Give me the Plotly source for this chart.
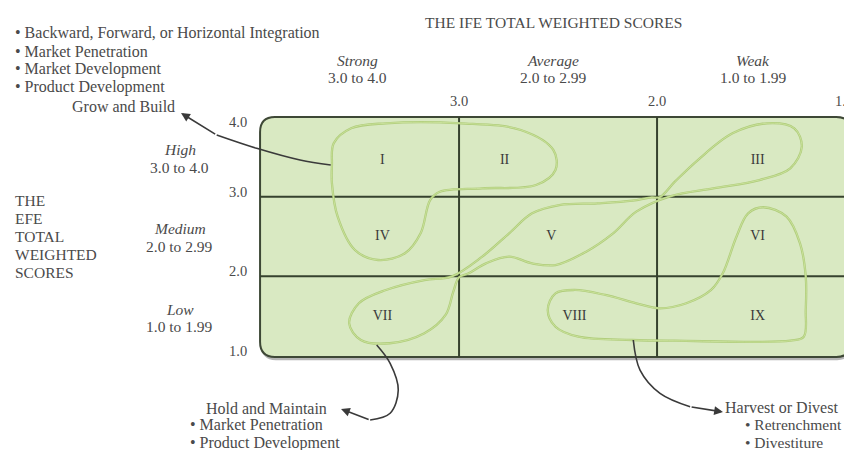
import plotly.graph_objects as go

# ---------------- data ----------------
ife_ticks = [3.0, 2.0, 1.0]            # top axis tick values (IFE)
efe_ticks = [4.0, 3.0, 2.0, 1.0]       # left axis tick values (EFE)
dividers = [3.0, 2.0]                  # cell boundaries

col_names = ["Strong", "Average", "Weak"]
col_ranges = ["3.0 to 4.0", "2.0 to 2.99", "1.0 to 1.99"]
col_centers = [3.515, 2.525, 1.515]
row_names = ["High", "Medium", "Low"]
row_ranges = ["3.0 to 4.0", "2.0 to 2.99", "1.0 to 1.99"]
row_centers = [3.48, 2.49, 1.48]

cell_labels = ["I", "II", "III", "IV", "V", "VI", "VII", "VIII", "IX"]
cell_x = [3.387, 2.770, 1.492, 3.387, 2.534, 1.492, 3.387, 2.417, 1.492]
cell_y = [3.46, 3.46, 3.46, 2.497, 2.497, 2.497, 1.493, 1.493, 1.493]

# "Grow and Build" region (I, II, IV)
grow_x = [3.633, 3.545, 3.369, 2.990, 2.688, 2.524, 2.513, 2.611, 2.883, 3.097, 3.146,
          3.194, 3.273, 3.409, 3.526, 3.613, 3.642, 3.642, 3.633]
grow_y = [3.670, 3.858, 3.921, 3.921, 3.837, 3.586, 3.335, 3.146, 3.105, 3.062, 2.958,
          2.540, 2.289, 2.205, 2.331, 2.749, 3.168, 3.398, 3.670]
# "Hold and Maintain" region (III, V, VII)
hold_x = [1.988, 1.910, 1.794, 1.619, 1.444, 1.307, 1.269, 1.327, 1.483, 1.716, 1.930,
          2.105, 2.222, 2.358, 2.513, 2.631, 2.747, 2.864, 2.951, 3.000,
          3.029, 3.068, 3.175, 3.350, 3.496, 3.555, 3.506, 3.369, 3.175, 3.039,
          2.883, 2.747, 2.631, 2.494, 2.300, 2.125, 2.027, 1.988]
hold_y = [2.992, 3.188, 3.460, 3.795, 3.921, 3.858, 3.628, 3.356, 3.209, 3.105, 3.008,
          2.812, 2.540, 2.310, 2.142, 2.163, 2.247, 2.163, 2.038, 1.988,
          1.807, 1.515, 1.285, 1.160, 1.201, 1.411, 1.662, 1.829, 1.954, 1.996,
          2.247, 2.540, 2.791, 2.895, 2.917, 2.950, 2.992, 2.992]
# "Harvest or Divest" region (VI, VIII, IX)
harv_x = [1.463, 1.346, 1.278, 1.249, 1.249, 1.259, 1.327, 1.910, 2.125, 2.397, 2.513,
          2.552, 2.513, 2.416, 2.261, 2.105, 1.988, 1.852, 1.727, 1.668, 1.599, 1.540, 1.463]
harv_y = [2.867, 2.749, 2.415, 1.996, 1.578, 1.242, 1.192, 1.192, 1.201, 1.242, 1.368,
          1.578, 1.787, 1.829, 1.766, 1.662, 1.599, 1.662, 1.829, 2.038, 2.498, 2.791, 2.867]

# connector arrows (tail on region -> head at strategy text)
arrow_grow_x = [3.648, 3.803, 4.022, 4.224, 4.404]
arrow_grow_y = [3.398, 3.460, 3.607, 3.774, 4.050]
arrow_hold_x = [3.416, 3.348, 3.307, 3.348, 3.449, 3.596]
arrow_hold_y = [1.138, 0.908, 0.573, 0.281, 0.197, 0.335]
arrow_harv_x = [2.120, 2.086, 1.985, 1.833, 1.667]
arrow_harv_y = [1.201, 0.824, 0.532, 0.364, 0.297]

grow_lines = ["• Backward, Forward, or Horizontal Integration", "• Market Penetration",
              "• Market Development", "• Product Development"]
hold_lines = ["• Market Penetration", "• Product Development"]
harv_lines = ["• Retrenchment", "• Divestiture"]
efe_title = ["THE", "EFE", "TOTAL", "WEIGHTED", "SCORES"]
ife_title = "THE IFE TOTAL WEIGHTED SCORES"

# ---------------- styles ----------------
SERIF = "Liberation Serif, Times New Roman, serif"
TXT = "#4a4a4a"
FILL = "#d9e9c2"
GRID = "#36422e"
LOOP_EDGE = "#afcc7a"
LOOP = "#cfe6a2"
LINE_STEP = 0.226          # 18 px line spacing in y-units

fig = go.Figure()

X_LEFT, X_RIGHT, Y_TOP, Y_BOT = 4.005, 1.02, 4.0, 0.988
RX, RY = 0.075, 0.19


def rrect(xl, xr, yt, yb, rx, ry):
    s = 1 if xr > xl else -1
    return (f"M {xl + s*rx},{yt} L {xr - s*rx},{yt} Q {xr},{yt} {xr},{yt - ry} "
            f"L {xr},{yb + ry} Q {xr},{yb} {xr - s*rx},{yb} L {xl + s*rx},{yb} "
            f"Q {xl},{yb} {xl},{yb + ry} L {xl},{yt - ry} Q {xl},{yt} {xl + s*rx},{yt} Z")


shapes = []
shapes.append(dict(type="path", xref="x", yref="y", layer="below",
                   path=rrect(X_LEFT - 0.005, X_RIGHT - 0.005, Y_TOP - 0.04, Y_BOT - 0.04, RX, RY),
                   fillcolor="rgba(90,90,90,0.45)", line=dict(width=0)))
shapes.append(dict(type="path", xref="x", yref="y", layer="below",
                   path=rrect(X_LEFT, X_RIGHT, Y_TOP, Y_BOT, RX, RY),
                   fillcolor=FILL, line=dict(color="#3e4836", width=2)))
for d in dividers:
    shapes.append(dict(type="line", xref="x", yref="y", layer="below",
                       x0=d, x1=d, y0=Y_BOT, y1=Y_TOP, line=dict(color=GRID, width=2)))
    shapes.append(dict(type="line", xref="x", yref="y", layer="below",
                       x0=X_LEFT, x1=X_RIGHT, y0=d, y1=d, line=dict(color=GRID, width=2)))

for lx, ly in [(grow_x, grow_y), (hold_x, hold_y), (harv_x, harv_y)]:
    fig.add_trace(go.Scatter(x=lx, y=ly, mode="lines", hoverinfo="skip", showlegend=False,
                             line=dict(color=LOOP_EDGE, width=2.3, shape="spline", smoothing=1.0)))
    fig.add_trace(go.Scatter(x=lx, y=ly, mode="lines", hoverinfo="skip", showlegend=False,
                             line=dict(color=LOOP, width=0.8, shape="spline", smoothing=1.0)))

fig.add_trace(go.Scatter(x=cell_x, y=cell_y, mode="text", text=cell_labels, hoverinfo="skip",
                         showlegend=False, textfont=dict(family=SERIF, size=14, color="#3a3a3a")))

annotations = []
for ax_, ay_ in [(arrow_grow_x, arrow_grow_y), (arrow_hold_x, arrow_hold_y), (arrow_harv_x, arrow_harv_y)]:
    fig.add_trace(go.Scatter(x=ax_[:-1], y=ay_[:-1], mode="lines", hoverinfo="skip", showlegend=False,
                             line=dict(color="#3a3a3a", width=1.6, shape="spline")))
    annotations.append(dict(x=ax_[-1], y=ay_[-1], ax=ax_[-2], ay=ay_[-2], xref="x", yref="y",
                            axref="x", ayref="y", text="", showarrow=True, arrowhead=2,
                            arrowsize=1.1, arrowwidth=1.6, arrowcolor="#3a3a3a", standoff=0))


def txt(x, y, text, size=16, xanchor="center", xshift=0, yshift=0):
    annotations.append(dict(x=x, y=y, xref="x", yref="y", text=text, showarrow=False,
                            xanchor=xanchor, yanchor="middle", xshift=xshift, yshift=yshift,
                            font=dict(family=SERIF, size=size, color=TXT)))


def block(x, y_first, lines, size=16, xanchor="left"):
    for i, t in enumerate(lines):
        txt(x, y_first - i * LINE_STEP, t, size=size, xanchor=xanchor)


for v in ife_ticks:
    txt(v, 4.2, f"{v:.1f}", size=14.5, xshift=-11 if v == 1.0 else 0)
for v in efe_ticks:
    txt(4.116, v, f"{v:.1f}", size=14.5, yshift=-5 if v == 4.0 else 5)

for name, rng, cx in zip(col_names, col_ranges, col_centers):
    txt(cx, 4.715, f"<i>{name}</i>", size=15.5)
    txt(cx, 4.502, rng, size=15.5)
for name, rng, cy in zip(row_names, row_ranges, row_centers):
    txt(4.41, cy + 0.11, f"<i>{name}</i>", size=15.5)
    txt(4.41, cy - 0.11, rng, size=15.5)

txt(2.525, 5.192, ife_title, size=15.5)
block(5.253, 2.958, efe_title, size=15.5)

block(5.253, 5.054, grow_lines, size=16)
txt(4.697, 4.138, "Grow and Build", size=16)

txt(3.97, 0.345, "Hold and Maintain", size=16)
block(4.369, 0.14, hold_lines, size=16)
txt(1.369, 0.352, "Harvest or Divest", size=16)
block(1.566, 0.14, harv_lines, size=15.5)

fig.update_layout(
    width=852, height=450,
    margin=dict(l=0, r=0, t=0, b=0),
    paper_bgcolor="white", plot_bgcolor="white",
    xaxis=dict(range=[5.278, 0.975], visible=False, fixedrange=True),
    yaxis=dict(range=[-0.280, 5.368], visible=False, fixedrange=True),
    shapes=shapes, annotations=annotations, showlegend=False,
)

fig.write_html("out.html")
